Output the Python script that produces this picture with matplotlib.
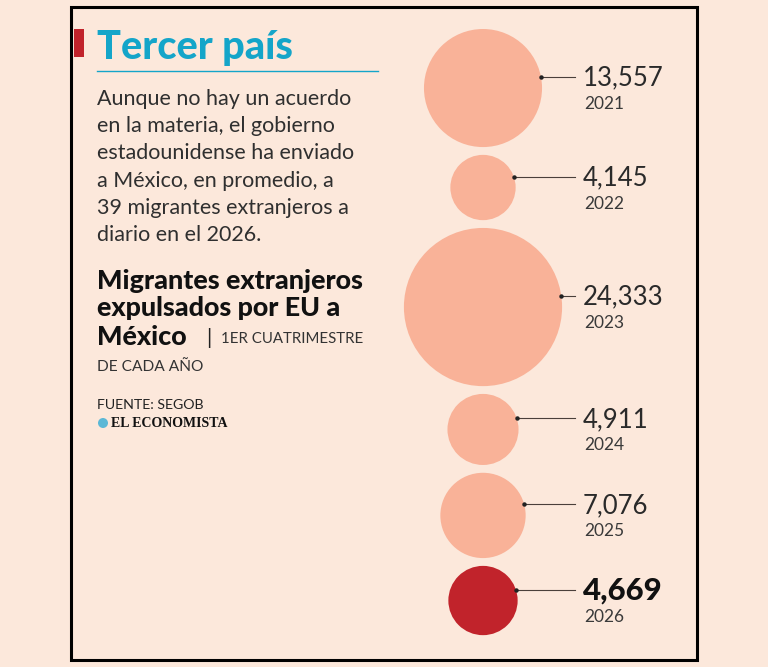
import matplotlib.pyplot as plt
from matplotlib.patches import Circle, Rectangle
import numpy as np

# datos
years = ['2021', '2022', '2023', '2024', '2025', '2026']
values = [13557, 4145, 24333, 4911, 7076, 4669]
highlight = '2026'

body = ['Aunque no hay un acuerdo',
        'en la materia, el gobierno',
        'estadounidense ha enviado',
        'a México, en promedio, a',
        '39 migrantes extranjeros a',
        'diario en el 2026.']

bg = '#fce8db'
salmon = '#f9b298'
red = '#c1232b'
cyan = '#14a5c9'
plt.rcParams['font.family'] = ['Lato', 'DejaVu Sans']

fig = plt.figure(figsize=(7.68, 6.67), dpi=100, facecolor=bg)
ax = fig.add_axes([0, 0, 1, 1])
ax.set_xlim(0, 768)
ax.set_ylim(667, 0)
ax.set_aspect('equal')
ax.axis('off')

# marco
ax.add_patch(Rectangle((71, 7), 626, 653, fill=False, ec='black', lw=2.2))
ax.add_patch(Rectangle((74, 29), 10, 28, color=red, lw=0))

ax.text(97, 47, 'Tercer país', color=cyan, fontsize=28.5, fontweight='black', va='center')
ax.plot([97, 378], [71, 71], color=cyan, lw=1)

for i, line in enumerate(body):
    ax.text(97, 99 + i * 27.2, line, fontsize=15.5, va='center', color='#2f2f2f')

sub = ['Migrantes extranjeros', 'expulsados por EU a']
for i, line in enumerate(sub):
    ax.text(97, 281 + i * 27.5, line, fontsize=19.4, fontweight='black', va='center', color='#111111')
ax.text(97, 337, 'México', fontsize=19.4, fontweight='black', va='center', color='#111111')
ax.text(206, 338, '|', fontsize=15, va='center', color='#222222')
ax.text(221, 339, '1ER CUATRIMESTRE', fontsize=10.8, va='center', color='#333333')
ax.text(97, 367, 'DE CADA AÑO', fontsize=11.2, va='center', color='#333333')

ax.text(97, 405, 'FUENTE: SEGOB', fontsize=10.2, va='center', color='#222222')
ax.add_patch(Circle((103, 423), 5, color='#5cb8d6', lw=0))
ax.text(111, 423.5, 'EL ECONOMISTA', fontsize=10, fontweight='bold', family='Liberation Serif',
        va='center', color='#111111')

# burbujas
k = 0.507
radii = [k * np.sqrt(v) for v in values]
cx = 483
top = 29
gap = 7.8
for yr, v, r in zip(years, values, radii):
    cy = top + r
    top = cy + r + gap
    col = red if yr == highlight else salmon
    ax.add_patch(Circle((cx, cy), r, color=col, lw=0))
    ly = cy - 11
    x0 = cx + np.sqrt(r ** 2 - 11 ** 2)
    ax.plot([x0, 575], [ly, ly], color='#4a3f3a', lw=0.8)
    ax.plot(x0, ly, 'o', ms=2.2, color='#222222')
    if yr == highlight:
        ax.text(583, ly + 1, f'{v:,}', fontsize=22.5, fontweight='black', va='center', color='#111111')
    else:
        ax.text(583, ly + 1, f'{v:,}', fontsize=18.5, va='center', color='#2a2a2a')
    ax.text(584, ly + 27, yr, fontsize=12.5, va='center', color='#3a3a3a')

fig.savefig('out.png', dpi=100, facecolor=bg)
